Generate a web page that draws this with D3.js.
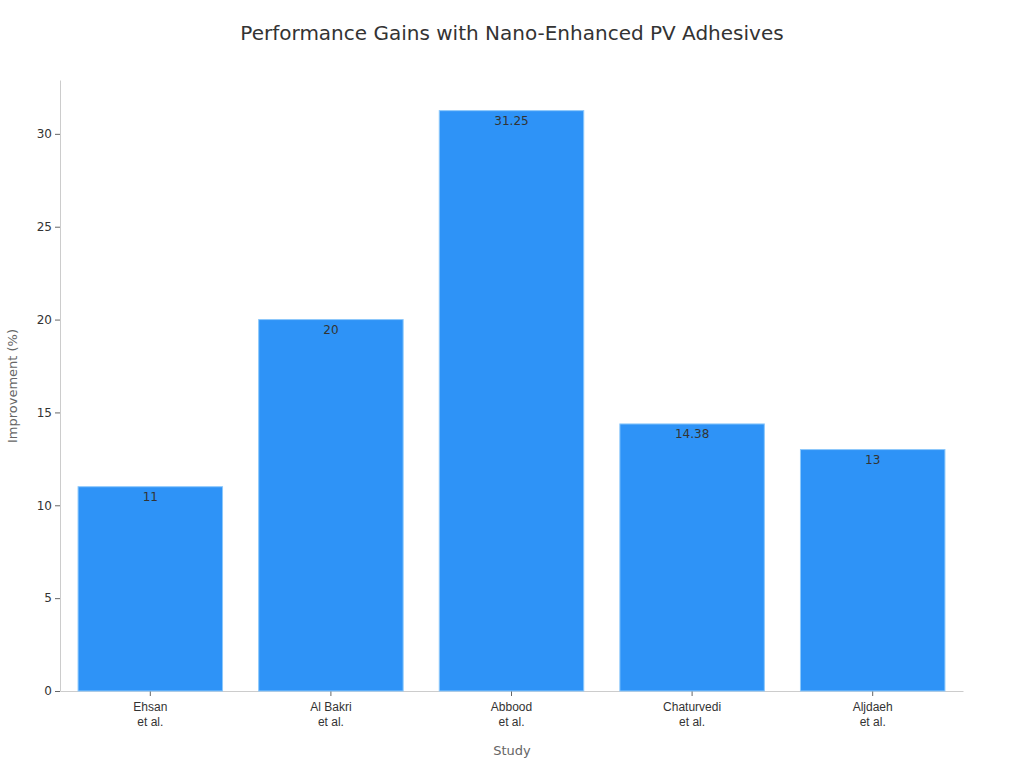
<!DOCTYPE html>
<html><head><meta charset="utf-8">
<script src="https://cdn.jsdelivr.net/npm/d3@7"></script>
<style>body{margin:0;background:#fff;font-family:"DejaVu Sans",sans-serif;}</style>
</head><body><svg id="c" width="1024" height="768"></svg>
<script>
const categories = [["Ehsan","et al."],["Al Bakri","et al."],["Abbood","et al."],["Chaturvedi","et al."],["Aljdaeh","et al."]];
const values = [11, 20, 31.25, 14.38, 13];
const yTicks = [0,5,10,15,20,25,30];

const svg = d3.select("#c");
const m = {l:60, r:963, t:80, b:691};
const x = d3.scaleBand().domain(categories.map((d,i)=>i)).range([m.l,m.r]).paddingInner(0.2).paddingOuter(0.1);
const y = d3.scaleLinear().domain([0, 32.9]).range([m.b, m.t]);

svg.append("text").attr("x",512).attr("y",40).attr("text-anchor","middle")
  .attr("font-size",20).attr("fill","#333").text("Performance Gains with Nano-Enhanced PV Adhesives");

const ya = svg.append("g").attr("transform",`translate(${m.l},0)`)
  .call(d3.axisLeft(y).tickValues(yTicks).tickSize(5).tickSizeOuter(0));
ya.select(".domain").attr("stroke","#ccc");
ya.selectAll(".tick line").attr("stroke","#666");
ya.selectAll("text").attr("font-size",12).attr("fill","#333").attr("font-family","DejaVu Sans");

const xa = svg.append("g").attr("transform",`translate(0,${m.b})`)
  .call(d3.axisBottom(x).tickSize(5).tickSizeOuter(0).tickFormat(""));
xa.select(".domain").attr("stroke","#ccc");
xa.selectAll(".tick line").attr("stroke","#666");
xa.selectAll(".tick").each(function(d){
  const t = d3.select(this).append("text").attr("fill","#333").attr("font-size",12).attr("text-anchor","middle");
  categories[d].forEach((s,j)=>t.append("tspan").attr("x",0).attr("y",20+j*15).text(s));
});

svg.selectAll("rect.bar").data(values).join("rect").attr("class","bar")
  .attr("x",(d,i)=>x(i)).attr("width",x.bandwidth())
  .attr("y",d=>y(d)).attr("height",d=>m.b-y(d))
  .attr("fill","#2e93f7").attr("stroke","#8cc8fb").attr("stroke-width",1);

svg.selectAll("text.lbl").data(values).join("text").attr("class","lbl")
  .attr("x",(d,i)=>x(i)+x.bandwidth()/2).attr("y",d=>y(d)+14)
  .attr("text-anchor","middle").attr("font-size",12).attr("fill","#333").text(d=>d);

svg.append("text").attr("x",512).attr("y",755).attr("text-anchor","middle")
  .attr("font-size",13).attr("fill","#666").text("Study");
svg.append("text").attr("transform","translate(17,386) rotate(-90)").attr("text-anchor","middle")
  .attr("font-size",13).attr("fill","#666").text("Improvement (%)");
</script></body></html>
